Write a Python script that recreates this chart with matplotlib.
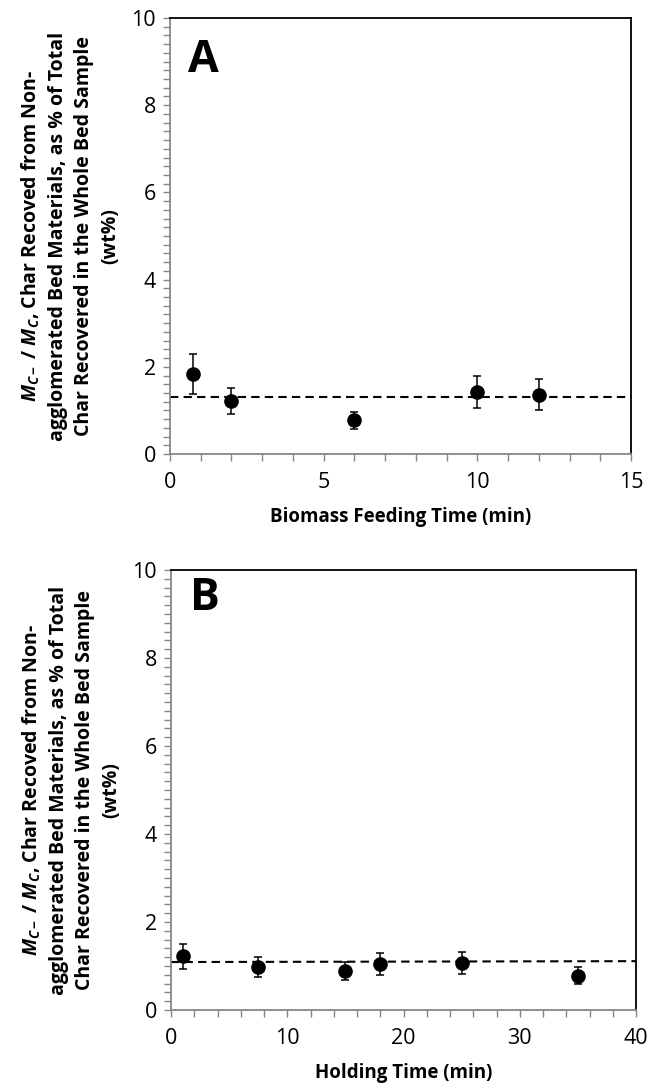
import numpy as np
import matplotlib.pyplot as plt
from matplotlib.ticker import MultipleLocator

plt.rcParams['font.family'] = ['Open Sans', 'DejaVu Sans']
plt.rcParams['mathtext.fontset'] = 'custom'
plt.rcParams['mathtext.it'] = 'Open Sans:italic:bold'
plt.rcParams['mathtext.rm'] = 'Open Sans:bold'

# panel A: biomass feeding time
feed_time = [0.75, 2, 6, 10, 12]
feed_char = [1.84, 1.21, 0.77, 1.42, 1.36]
feed_err = [0.46, 0.30, 0.20, 0.36, 0.35]
feed_line_x = [0, 15]
feed_line_y = [1.31, 1.31]

# panel B: holding time
hold_time = [1, 7.5, 15, 18, 25, 35]
hold_char = [1.22, 0.97, 0.89, 1.04, 1.07, 0.78]
hold_err = [0.29, 0.23, 0.20, 0.25, 0.25, 0.19]
hold_line_x = [0, 40]
hold_line_y = [1.09, 1.11]

ylabel = ("$M_{C-}$ / $M_C$, Char Recoved from Non-\n"
          "agglomerated Bed Materials, as % of Total\n"
          "Char Recovered in the Whole Bed Sample\n"
          "(wt%)")

fig = plt.figure(figsize=(6.49, 10.87), dpi=100)
W, H = 649, 1087
axA = fig.add_axes([170 / W, 1 - 454 / H, (631 - 170) / W, (454 - 18) / H])
axB = fig.add_axes([171 / W, 1 - 1010 / H, (636 - 171) / W, (1010 - 570) / H])

gray = '#868686'
panels = [
    (axA, feed_time, feed_char, feed_err, feed_line_x, feed_line_y, 15, 5, 1,
     'Biomass Feeding Time (min)', 'A', 0.876),
    (axB, hold_time, hold_char, hold_err, hold_line_x, hold_line_y, 40, 10, 2,
     'Holding Time (min)', 'B', 0.909),
]
for ax, x, y, e, lx, ly, xmax, xmaj, xmin, xlab, letter, ly_pos in panels:
    ax.plot(lx, ly, color='black', lw=1.5, ls=(0, (4, 2.5)), zorder=2)
    ax.errorbar(x, y, yerr=e, fmt='o', color='black', ms=9.5, ecolor='black',
                elinewidth=1.1, capsize=3, capthick=1.1, zorder=3)
    ax.set_xlim(0, xmax)
    ax.set_ylim(0, 10)
    ax.xaxis.set_major_locator(MultipleLocator(xmaj))
    ax.xaxis.set_minor_locator(MultipleLocator(xmin))
    ax.yaxis.set_major_locator(MultipleLocator(2))
    ax.yaxis.set_minor_locator(MultipleLocator(0.2))
    ax.tick_params(which='both', direction='out', length=5, width=1, color=gray,
                   labelsize=15.5)
    ax.tick_params(axis='x', pad=8)
    ax.tick_params(axis='y', pad=5)
    for s in ['left', 'bottom']:
        ax.spines[s].set_color(gray)
        ax.spines[s].set_linewidth(1.3)
    for s in ['top', 'right']:
        ax.spines[s].set_color('black')
        ax.spines[s].set_linewidth(1.3)
    ax.set_xlabel(xlab, fontsize=13.5, fontweight='bold', labelpad=10)
    ax.set_ylabel(ylabel, fontsize=14, fontweight='bold', labelpad=8,
                  linespacing=1.4)
    ax.text(0.04, ly_pos, letter, transform=ax.transAxes, fontsize=32,
            fontweight='bold', ha='left', va='baseline')

fig.savefig('out.png', dpi=100)
